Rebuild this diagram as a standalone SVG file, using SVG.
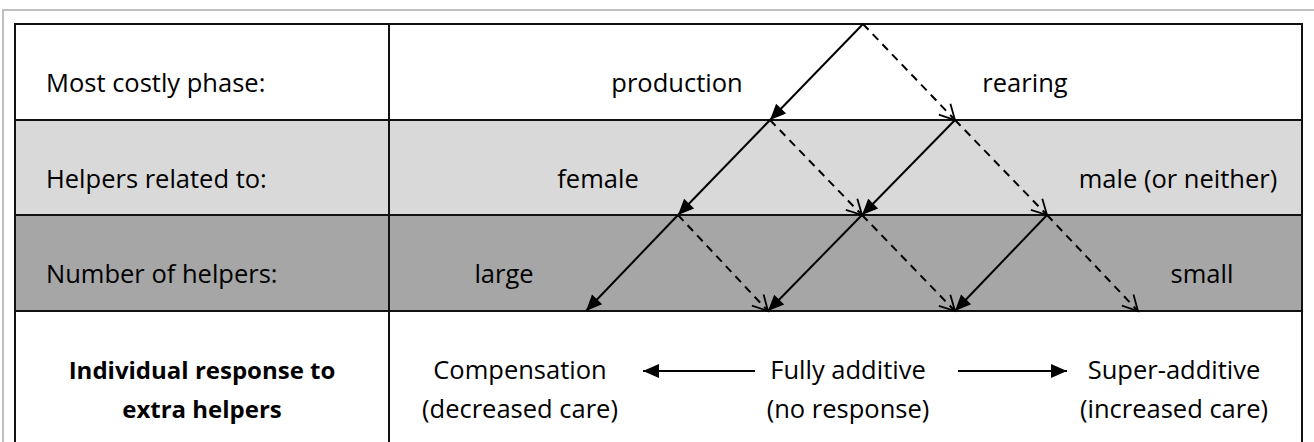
<svg xmlns="http://www.w3.org/2000/svg" width="1314" height="442" viewBox="0 0 1314 442">
  <style>
    text { font-family: "Open Sans", "Noto Sans", "DejaVu Sans", sans-serif; font-size: 25.5px; fill: #000; }
    .lbl { text-anchor: start; }
    .mid { text-anchor: middle; }
    .bold { font-weight: bold; font-size: 24px; text-anchor: middle; }
    .grid { stroke: #111; stroke-width: 2; fill: none; }
    .solid { stroke: #000; stroke-width: 2; fill: none; marker-end: url(#filled); }
    .dash { stroke: #000; stroke-width: 2; fill: none; stroke-dasharray: 8 6; marker-end: url(#open); }
  </style>
  <defs>
    <marker id="filled" markerUnits="userSpaceOnUse" markerWidth="18" markerHeight="16" refX="16" refY="7" orient="auto" overflow="visible">
      <path d="M0,0 L16,7 L0,14 Z" fill="#000" stroke="none"/>
    </marker>
    <marker id="open" markerUnits="userSpaceOnUse" markerWidth="18" markerHeight="18" refX="15" refY="8" orient="auto" overflow="visible">
      <path d="M0,0 L15,8 L0,16" fill="none" stroke="#000" stroke-width="1.8" stroke-dasharray="none"/>
    </marker>
  </defs>

  <rect x="0" y="0" width="1314" height="442" fill="#ffffff"/>
  <!-- outer frame -->
  <path d="M1314,10 L3,10 L3,442" fill="none" stroke="#c0c0c0" stroke-width="2"/>

  <!-- table rows -->
  <g id="row-phase">
    <rect x="15" y="24" width="1287" height="96" fill="#ffffff"/>
    <text class="lbl" x="46" y="92">Most costly phase:</text>
    <text class="mid" x="677" y="92">production</text>
    <text class="mid" x="1025" y="92">rearing</text>
  </g>
  <g id="row-related">
    <rect x="15" y="120" width="1287" height="95" fill="#d9d9d9"/>
    <text class="lbl" x="46" y="188">Helpers related to:</text>
    <text class="mid" x="598" y="188">female</text>
    <text class="mid" x="1178" y="188">male (or neither)</text>
  </g>
  <g id="row-number">
    <rect x="15" y="215" width="1287" height="96" fill="#a6a6a6"/>
    <text class="lbl" x="46" y="283">Number of helpers:</text>
    <text class="mid" x="504" y="283">large</text>
    <text class="mid" x="1202" y="283">small</text>
  </g>
  <g id="row-response">
    <rect x="15" y="311" width="1287" height="131" fill="#ffffff"/>
    <text class="bold" x="202" y="379">Individual response to</text>
    <text class="bold" x="202" y="418">extra helpers</text>
    <text class="mid" x="520" y="379">Compensation</text>
    <text class="mid" x="520" y="418">(decreased care)</text>
    <text class="mid" x="848" y="379">Fully additive</text>
    <text class="mid" x="848" y="418">(no response)</text>
    <text class="mid" x="1174" y="379">Super-additive</text>
    <text class="mid" x="1174" y="418">(increased care)</text>
  </g>

  <!-- grid lines -->
  <g id="grid">
    <path class="grid" d="M15,442 L15,24 L1302,24 L1302,442"/>
    <path class="grid" d="M389,24 L389,442"/>
    <path class="grid" d="M15,120 L1302,120"/>
    <path class="grid" d="M15,215 L1302,215"/>
    <path class="grid" d="M15,311 L1302,311"/>
  </g>

  <!-- connectors -->
  <g id="connectors">
    <line class="solid" x1="863" y1="24" x2="770" y2="120"/>
    <line class="dash" x1="863" y1="24" x2="955" y2="120"/>

    <line class="solid" x1="770" y1="120" x2="678" y2="215"/>
    <line class="dash" x1="770" y1="120" x2="862" y2="215"/>
    <line class="solid" x1="955" y1="120" x2="862" y2="215"/>
    <line class="dash" x1="955" y1="120" x2="1047" y2="215"/>

    <line class="solid" x1="678" y1="215" x2="586" y2="311"/>
    <line class="dash" x1="678" y1="215" x2="768" y2="311"/>
    <line class="solid" x1="862" y1="215" x2="768" y2="311"/>
    <line class="dash" x1="862" y1="215" x2="955" y2="311"/>
    <line class="solid" x1="1047" y1="215" x2="955" y2="311"/>
    <line class="dash" x1="1047" y1="215" x2="1138" y2="311"/>

    <line class="solid" x1="755" y1="371" x2="643" y2="371"/>
    <line class="solid" x1="958" y1="371" x2="1067" y2="371"/>
  </g>
</svg>
